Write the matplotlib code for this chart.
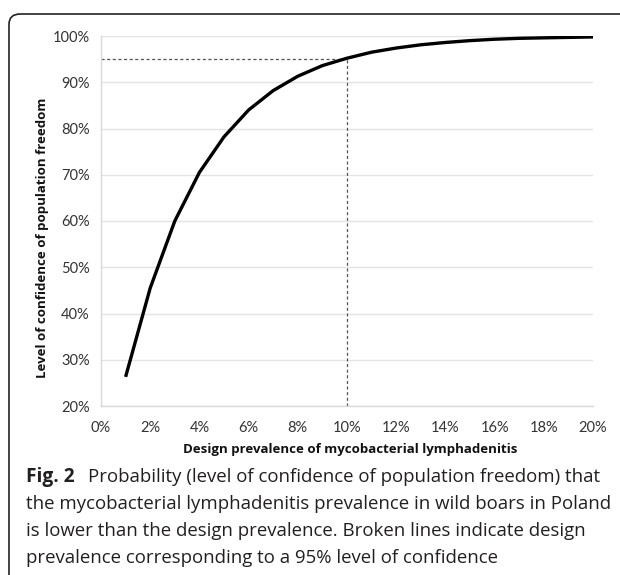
import matplotlib
matplotlib.use("Agg")
import matplotlib.pyplot as plt
from matplotlib.patches import FancyBboxPatch
from matplotlib.ticker import FuncFormatter

# Data
prevalence = [1, 2, 3, 4, 5, 6, 7, 8, 9, 10, 11, 12, 13, 14, 15, 16, 17, 18, 19, 20]
confidence = [26.3, 45.5, 60.0, 70.5, 78.2, 84.0, 88.2, 91.3, 93.6, 95.2,
              96.5, 97.4, 98.1, 98.6, 99.0, 99.3, 99.5, 99.6, 99.7, 99.8]
design_x = 10
design_y = 95
x_ticks = [0, 2, 4, 6, 8, 10, 12, 14, 16, 18, 20]
y_ticks = [20, 30, 40, 50, 60, 70, 80, 90, 100]

W, H = 620, 575
fig = plt.figure(figsize=(W / 100, H / 100), dpi=100)

def fx(px):
    return px / W

def fy(py):
    return 1 - py / H

# frame with rounded top-left corner, open to right/bottom
frame = FancyBboxPatch((fx(9), fy(640)), fx(700), fy(14) - fy(640),
                       boxstyle="round,pad=0,rounding_size=0.018",
                       transform=fig.transFigure, fill=False,
                       edgecolor="#222222", linewidth=1.2, clip_on=False)
fig.patches.append(frame)

ax = fig.add_axes([fx(101), fy(406), fx(593) - fx(101), fy(36) - fy(406)])
ax.plot(prevalence, confidence, color="black", linewidth=2.4, solid_capstyle="butt", zorder=3)
ax.plot([0, design_x], [design_y, design_y], color="#555555", linewidth=0.9,
        linestyle=(0, (2.5, 2)), zorder=2)
ax.plot([design_x, design_x], [20, design_y], color="#555555", linewidth=0.9,
        linestyle=(0, (2.5, 2)), zorder=2)

ax.set_xlim(0, 20)
ax.set_ylim(20, 100)
ax.set_xticks(x_ticks)
ax.set_yticks(y_ticks)
ax.xaxis.set_major_formatter(FuncFormatter(lambda v, p: f"{int(v)}%"))
ax.yaxis.set_major_formatter(FuncFormatter(lambda v, p: f"{int(v)}%"))
ax.grid(axis="y", color="#e3e3e3", linewidth=1.0, zorder=0)
ax.set_axisbelow(True)
for s in ["top", "right"]:
    ax.spines[s].set_visible(False)
for s in ["left", "bottom"]:
    ax.spines[s].set_color("#d9d9d9")
    ax.spines[s].set_linewidth(1.0)
ax.tick_params(length=0, labelsize=10.5, colors="#333333", pad=8)
for lab in ax.get_xticklabels() + ax.get_yticklabels():
    lab.set_fontfamily("Lato")
ax.tick_params(axis="x", pad=11)

fig.text(fx(350), fy(449), "Design prevalence of mycobacterial lymphadenitis",
         ha="center", va="center", fontsize=9.5, fontweight="bold", family="Open Sans",
         color="#111111")
fig.text(fx(43), fy(238), "Level of confidence of population freedom",
         ha="center", va="center", rotation=90, fontsize=9.5, fontweight="bold",
         family="Open Sans", color="#111111")

cap_size = 13.4
cap_col = "#231f20"
fig.text(fx(26), fy(477), "Fig. 2", ha="left", va="center", fontsize=cap_size + 0.4,
         fontweight="bold", family="Open Sans", color=cap_col)
fig.text(fx(26 + 62), fy(477),
         "Probability (level of confidence of population freedom) that",
         ha="left", va="center", fontsize=cap_size, family="Open Sans", color=cap_col)
lines = ["the mycobacterial lymphadenitis prevalence in wild boars in Poland",
         "is lower than the design prevalence. Broken lines indicate design",
         "prevalence corresponding to a 95% level of confidence"]
for i, t in enumerate(lines):
    fig.text(fx(26), fy(504 + 27 * i), t, ha="left", va="center", fontsize=cap_size,
             family="Open Sans", color=cap_col)

fig.savefig("out.png", dpi=100)
